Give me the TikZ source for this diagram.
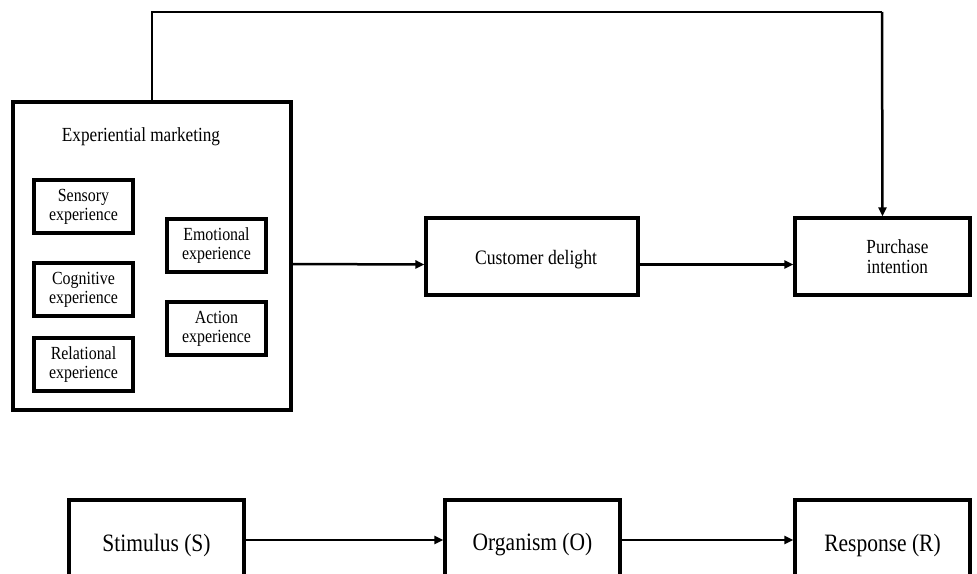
\documentclass[tikz,border=0pt]{standalone}
\usepackage{fontspec}
\setmainfont{Liberation Serif}
\newfontfamily\narrowserif[FakeStretch=0.86]{Liberation Serif}
\usetikzlibrary{arrows.meta}
\begin{document}
\begin{tikzpicture}[x=1pt,y=-1pt,
  box/.style={draw, line width=3.1pt, inner sep=0pt, align=center},
  sub/.style={box, minimum width=99pt, minimum height=53pt, font=\narrowserif\fontsize{18.5}{19}\selectfont},
  big/.style={box, minimum width=175pt, minimum height=90pt, font=\narrowserif\fontsize{25}{28}\selectfont},
  conn/.style={line width=2.5pt, -{Triangle[length=9pt,width=8pt]}}]
\useasboundingbox (0,0) rectangle (977,573);
\clip (0,0) rectangle (977,573);
\node[box, minimum width=278pt, minimum height=308pt] (M) at (152,256) {};
\node[font=\narrowserif\fontsize{20}{22}\selectfont] (T) at (141,137) {Experiential marketing};
\node[sub] (sens) at (83.5,206.5) {Sensory\\experience};
\node[sub] (cog) at (83.5,289.5) {Cognitive\\experience};
\node[sub] (rel) at (83.5,364.5) {Relational\\experience};
\node[sub] (emo) at (216.5,245.5) {Emotional\\experience};
\node[sub] (act) at (216.5,328.5) {Action\\experience};
\node[box, minimum width=212pt, minimum height=77pt,
  label={[font=\narrowserif\fontsize{20.5}{22}\selectfont, xshift=4pt, yshift=-3pt]center:Customer delight}] (CD) at (532,256.5) {};
\node[box, minimum width=175pt, minimum height=77pt,
  label={[font=\narrowserif\fontsize{20}{20}\selectfont, align=center, xshift=15pt]center:Purchase\\intention}] (PI) at (882.5,256.5) {};
\coordinate (tl) at (152,12);
\coordinate (tr) at (882,12);
\draw[line width=2.5pt, line join=miter] (M.north) -- (tl) -- (tr);
\draw[conn] (tr) -- (PI.north);
\draw[conn] ([yshift=-8pt]M.east) -- ([yshift=-8pt]CD.west);
\draw[conn] ([yshift=-8pt]CD.east) -- ([yshift=-8pt]PI.west);
\node[big] (S) at (156.5,545) {Stimulus (S)};
\node[big] (O) at (532.5,545) {Organism (O)};
\node[big] (R) at (882.5,545) {Response (R)};
\draw[conn] ([yshift=5pt]S.east) -- ([yshift=5pt]O.west);
\draw[conn] ([yshift=5pt]O.east) -- ([yshift=5pt]R.west);
\end{tikzpicture}
\end{document}
